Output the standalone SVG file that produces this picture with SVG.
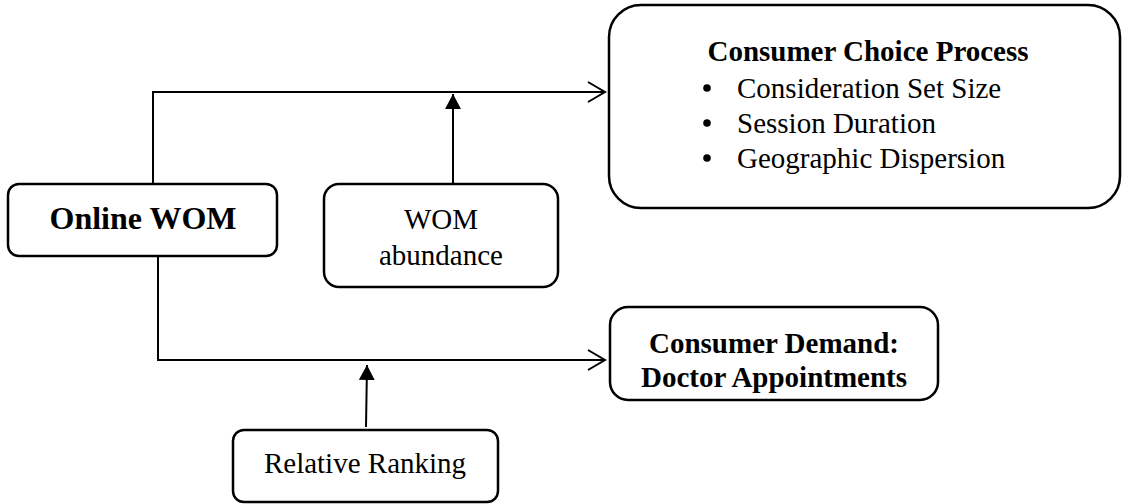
<svg xmlns="http://www.w3.org/2000/svg" width="1122" height="504" viewBox="0 0 1122 504">
<style>
.box{fill:#fff;stroke:#000;stroke-width:2.5}
.ln{fill:none;stroke:#000;stroke-width:2}
.t{font-family:"Liberation Serif","Times New Roman",serif;font-size:29px;fill:#000}
.b{font-weight:bold}
</style>
<defs>
<marker id="open" markerWidth="20" markerHeight="24" refX="18" refY="11" orient="auto" markerUnits="userSpaceOnUse">
<path d="M1,1 L18,11 L1,21" fill="none" stroke="#000" stroke-width="2"/>
</marker>
<marker id="fill" markerWidth="18" markerHeight="18" refX="15" refY="8" orient="auto" markerUnits="userSpaceOnUse">
<path d="M0,0 L15,8 L0,16 Z" fill="#000"/>
</marker>
</defs>
<rect width="1122" height="504" fill="#fff"/>
<g id="connectors">
<path class="ln" d="M153,184 V92 H605" marker-end="url(#open)"/>
<path class="ln" d="M158,256 V360 H605" marker-end="url(#open)"/>
<path class="ln" d="M453,184 V94" marker-end="url(#fill)"/>
<path class="ln" d="M366,427 L367,365" marker-end="url(#fill)"/>
</g>
<g id="online-wom">
<rect class="box" x="8" y="184" width="269" height="72" rx="11"/>
<text class="t b" x="143" y="229" text-anchor="middle" style="font-size:32px">Online WOM</text>
</g>
<g id="wom-abundance">
<rect class="box" x="324" y="184" width="234" height="103" rx="15"/>
<text class="t" x="441" y="229" text-anchor="middle">WOM</text>
<text class="t" x="441" y="265" text-anchor="middle">abundance</text>
</g>
<g id="consumer-choice">
<rect class="box" x="609" y="5" width="511" height="203" rx="32"/>
<text class="t b" x="868" y="61" text-anchor="middle">Consumer Choice Process</text>
<circle cx="707" cy="88" r="3.8"/>
<text class="t" x="737" y="98">Consideration Set Size</text>
<circle cx="707" cy="123" r="3.8"/>
<text class="t" x="737" y="133">Session Duration</text>
<circle cx="707" cy="158" r="3.8"/>
<text class="t" x="737" y="168">Geographic Dispersion</text>
</g>
<g id="consumer-demand">
<rect class="box" x="610" y="307" width="328" height="93" rx="18"/>
<text class="t b" x="774" y="353" text-anchor="middle">Consumer Demand:</text>
<text class="t b" x="774" y="387" text-anchor="middle">Doctor Appointments</text>
</g>
<g id="relative-ranking">
<rect class="box" x="233" y="430" width="265" height="72" rx="11"/>
<text class="t" x="365" y="473" text-anchor="middle">Relative Ranking</text>
</g>
</svg>
